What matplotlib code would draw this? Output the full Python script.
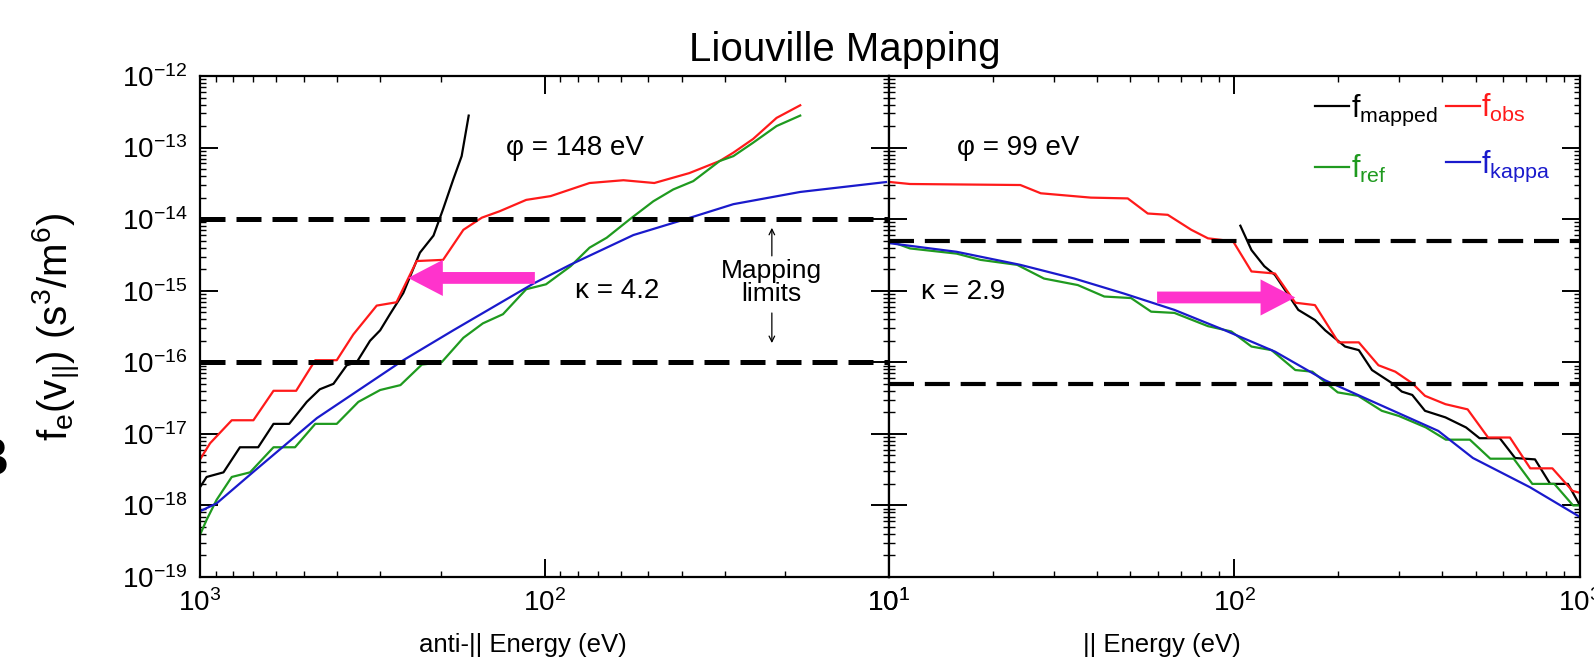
import numpy as np
import matplotlib
matplotlib.use("Agg")
import matplotlib.pyplot as plt
from matplotlib.ticker import LogLocator, NullFormatter

plt.rcParams['font.family'] = ['Liberation Sans', 'DejaVu Sans']
plt.rcParams['mathtext.fontset'] = 'custom'
plt.rcParams['mathtext.rm'] = 'Liberation Sans'
plt.rcParams['mathtext.it'] = 'Liberation Sans:italic'
plt.rcParams['mathtext.bf'] = 'Liberation Sans:bold'
plt.rcParams['mathtext.default'] = 'regular'
plt.rcParams['axes.unicode_minus'] = False

#%% data (energy in eV, f in s^3/m^6)

# anti-parallel side
anti_E_obs = [1000, 935, 809, 700, 612, 526, 463, 401, 359, 307, 269, 235, 197, 172,
              152, 135, 113, 96, 74, 59, 48, 38, 31, 28.3, 24.8, 21.2, 18.1]
anti_f_obs = [4.4e-18, 7.4e-18, 1.55e-17, 1.55e-17, 4.0e-17, 4.0e-17, 1.07e-16, 1.07e-16,
              2.45e-16, 6.2e-16, 6.9e-16, 2.6e-15, 2.7e-15, 7.1e-15, 1.05e-14, 1.29e-14,
              1.86e-14, 2.1e-14, 3.2e-14, 3.5e-14, 3.2e-14, 4.4e-14, 6.5e-14, 8.5e-14,
              1.32e-13, 2.6e-13, 3.9e-13]

anti_E_map = [1000, 957, 855, 766, 678, 612, 551, 490, 449, 410, 375, 351, 321, 300,
              281, 257, 230, 210, 197, 184, 174, 166]
anti_f_map = [1.8e-18, 2.5e-18, 2.9e-18, 6.5e-18, 6.5e-18, 1.38e-17, 1.38e-17, 2.8e-17,
              4.2e-17, 5.0e-17, 9.1e-17, 1.0e-16, 2.0e-16, 2.8e-16, 4.7e-16, 9.3e-16,
              3.4e-15, 5.9e-15, 1.38e-14, 3.6e-14, 7.6e-14, 2.8e-13]

anti_E_ref = [1000, 957, 895, 809, 716, 612, 530, 463, 401, 347, 300, 262, 227, 199, 172,
              151, 132, 113, 99, 84, 74, 66, 56.5, 48.3, 42.3, 37, 31, 28.3, 24.8, 21.2, 18.1]
anti_f_ref = [3.9e-19, 6.3e-19, 1.2e-18, 2.5e-18, 2.9e-18, 6.5e-18, 6.5e-18, 1.38e-17,
              1.38e-17, 2.8e-17, 4.1e-17, 4.8e-17, 9.3e-17, 1.0e-16, 2.2e-16, 3.5e-16,
              4.7e-16, 1.05e-15, 1.23e-15, 2.2e-15, 4.0e-15, 5.5e-15, 1.0e-14, 1.78e-14,
              2.6e-14, 3.4e-14, 6.5e-14, 7.6e-14, 1.17e-13, 2.0e-13, 2.8e-13]

anti_E_kap = [1000, 895, 700, 458, 257, 184, 108, 84.3, 55.2, 39.5, 28.3, 18.1, 10.2]
anti_f_kap = [8.3e-19, 1.07e-18, 2.95e-18, 1.66e-17, 1.07e-16, 2.8e-16, 1.25e-15,
              2.3e-15, 6.0e-15, 9.8e-15, 1.62e-14, 2.4e-14, 3.3e-14]

# parallel side
par_E_obs = [10.1, 11.5, 24.0, 27.5, 38.4, 49.1, 56.1, 64.1, 75.0, 83.8, 99.1, 112, 131,
             150, 171, 200, 229, 261, 292, 327, 356, 408, 473, 542, 627, 718, 832, 951, 1000]
par_f_obs = [3.3e-14, 3.1e-14, 3.0e-14, 2.3e-14, 2.0e-14, 1.95e-14, 1.2e-14, 1.15e-14,
             7.1e-15, 5.4e-15, 4.9e-15, 1.86e-15, 1.74e-15, 6.8e-16, 6.3e-16, 1.9e-16,
             1.9e-16, 9.1e-17, 7.4e-17, 5.1e-17, 3.4e-17, 2.6e-17, 2.2e-17, 8.9e-18,
             8.9e-18, 3.3e-18, 3.3e-18, 1.6e-18, 1.5e-18]

par_E_map = [104, 112, 122, 131, 153, 171, 183, 209, 229, 250, 286, 305, 327, 356, 408,
             468, 512, 586, 649, 741, 820, 923, 1000]
par_f_map = [8.1e-15, 3.7e-15, 2.2e-15, 1.66e-15, 5.4e-16, 3.9e-16, 2.8e-16, 1.66e-16,
             1.48e-16, 7.8e-17, 5.1e-17, 3.9e-17, 3.5e-17, 2.1e-17, 1.7e-17, 1.23e-17,
             8.7e-18, 8.7e-18, 4.6e-18, 4.4e-18, 2.0e-18, 2.0e-18, 1.0e-18]

par_E_ref = [10.1, 11.5, 15.7, 18.4, 23.5, 28.1, 35.2, 42.0, 50.2, 57.4, 67.0, 83.8, 97.9,
             112, 128, 150, 168, 199, 228, 267, 299, 358, 409, 480, 550, 643, 728, 843, 955, 1000]
par_f_ref = [4.9e-15, 3.9e-15, 3.3e-15, 2.7e-15, 2.3e-15, 1.48e-15, 1.2e-15, 8.3e-16,
             7.9e-16, 5.1e-16, 4.9e-16, 3.2e-16, 2.7e-16, 1.66e-16, 1.48e-16, 7.8e-17,
             7.4e-17, 3.8e-17, 3.4e-17, 2.1e-17, 1.78e-17, 1.23e-17, 8.3e-18, 8.3e-18,
             4.5e-18, 4.5e-18, 2.0e-18, 2.0e-18, 1.0e-18, 1.0e-18]

par_E_kap = [10.1, 15.7, 24.0, 34.4, 48.0, 67.0, 93.8, 131, 183, 389, 490, 716, 1000]
par_f_kap = [4.6e-15, 3.5e-15, 2.3e-15, 1.48e-15, 9.1e-16, 5.4e-16, 2.8e-16, 1.41e-16,
             5.6e-17, 1.1e-17, 4.6e-18, 1.8e-18, 6.9e-19]

anti_limits = [1e-14, 1e-16]
par_limits = [5e-15, 5e-17]
phi_labels = ["φ = 148 eV", "φ = 99 eV"]
kappa_labels = ["κ = 4.2", "κ = 2.9"]
xlabels = ["anti-|| Energy (eV)", "|| Energy (eV)"]

c_map, c_obs, c_ref, c_kap = 'black', '#ff1a1a', '#1f9a1f', '#1a1acc'
pink = '#ff33cc'

#%% figure

fig = plt.figure(figsize=(15.94, 6.64), dpi=100)
axL = fig.add_axes([0.1255, 0.131, 0.4322, 0.7545])
axR = fig.add_axes([0.5577, 0.131, 0.4335, 0.7545])

lw = 1.6
axL.plot(anti_E_map, anti_f_map, color=c_map, lw=lw)
axL.plot(anti_E_obs, anti_f_obs, color=c_obs, lw=lw)
axL.plot(anti_E_ref, anti_f_ref, color=c_ref, lw=lw)
axL.plot(anti_E_kap, anti_f_kap, color=c_kap, lw=lw)
for lim in anti_limits:
    axL.axhline(lim, color='black', lw=3.6, ls=(0, (5, 2.2)))

hm, = axR.plot(par_E_map, par_f_map, color=c_map, lw=lw, label=r'$f_{mapped}$')
ho, = axR.plot(par_E_obs, par_f_obs, color=c_obs, lw=lw, label=r'$f_{obs}$')
hr, = axR.plot(par_E_ref, par_f_ref, color=c_ref, lw=lw, label=r'$f_{ref}$')
hk, = axR.plot(par_E_kap, par_f_kap, color=c_kap, lw=lw, label=r'$f_{kappa}$')
for lim in par_limits:
    axR.axhline(lim, color='black', lw=3.0, ls=(0, (6, 2.6)))

for ax in (axL, axR):
    ax.set_xscale('log')
    ax.set_yscale('log')
    ax.set_ylim(1e-19, 1e-12)
    ax.xaxis.set_major_locator(LogLocator(base=10, numticks=10))
    ax.xaxis.set_minor_locator(LogLocator(base=10, subs=np.arange(2, 10), numticks=100))
    ax.yaxis.set_major_locator(LogLocator(base=10, numticks=20))
    ax.yaxis.set_minor_locator(LogLocator(base=10, subs=np.arange(2, 10), numticks=100))
    ax.xaxis.set_minor_formatter(NullFormatter())
    ax.yaxis.set_minor_formatter(NullFormatter())
    ax.tick_params(which='both', direction='in', top=True, right=True)
    ax.tick_params(which='major', length=13, width=1.4, labelsize=20, pad=9)
    ax.tick_params(which='minor', length=4, width=1.0)
    for s in ax.spines.values():
        s.set_linewidth(1.6)

axL.set_xlim(1000, 10)
axR.set_xlim(10, 1000)
axR.tick_params(axis='y', labelleft=False)

axL.set_ylabel(r'$f_e(v_{||})\ (s^3/m^6)$', fontsize=29, labelpad=28)
axL.set_xlabel(xlabels[0], fontsize=18.5)
axR.set_xlabel(xlabels[1], fontsize=18.5)
axL.xaxis.set_label_coords(0.469, -0.112)
axR.xaxis.set_label_coords(0.395, -0.112)

# text annotations
axL.text(0.544, 0.856, phi_labels[0], transform=axL.transAxes, fontsize=20, ha='center', va='center')
axR.text(0.187, 0.856, phi_labels[1], transform=axR.transAxes, fontsize=20, ha='center', va='center')
axL.text(0.605, 0.571, kappa_labels[0], transform=axL.transAxes, fontsize=20, ha='center', va='center')
axR.text(0.107, 0.569, kappa_labels[1], transform=axR.transAxes, fontsize=20, ha='center', va='center')
axL.text(0.829, 0.587, "Mapping\nlimits", transform=axL.transAxes, fontsize=19,
         ha='center', va='center', linespacing=0.95)
axL.annotate('', xy=(0.830, 0.697), xytext=(0.830, 0.641), xycoords='axes fraction',
             arrowprops=dict(arrowstyle='->', lw=0.9, color='black', shrinkA=0, shrinkB=0))
axL.annotate('', xy=(0.830, 0.467), xytext=(0.830, 0.527), xycoords='axes fraction',
             arrowprops=dict(arrowstyle='->', lw=0.9, color='black', shrinkA=0, shrinkB=0))

# magenta arrows
astyle = 'simple,head_length=0.5,head_width=0.52,tail_width=0.17'
axL.annotate('', xy=(0.302, 0.597), xytext=(0.486, 0.597), xycoords='axes fraction',
             arrowprops=dict(arrowstyle=astyle, color=pink, lw=0, shrinkA=0, shrinkB=0,
                             mutation_scale=50))
axR.annotate('', xy=(0.588, 0.558), xytext=(0.388, 0.558), xycoords='axes fraction',
             arrowprops=dict(arrowstyle=astyle, color=pink, lw=0, shrinkA=0, shrinkB=0,
                             mutation_scale=50))

axR.legend(handles=[hm, hr, ho, hk], loc='upper right', bbox_to_anchor=(0.957, 0.968),
           ncol=2, frameon=False, fontsize=22, labelcolor='linecolor',
           handlelength=1.1, handletextpad=0.05, columnspacing=0.3,
           labelspacing=0.8, borderpad=0, borderaxespad=0)

fig.text(845 / 1594, 1 - 50 / 664, "Liouville Mapping", fontsize=29, ha='center', va='center')
fig.text(9 / 1594, 1 - 461 / 664, "B", fontsize=38, fontweight='bold', ha='right', va='center')

plt.savefig("out.png", dpi=100)
